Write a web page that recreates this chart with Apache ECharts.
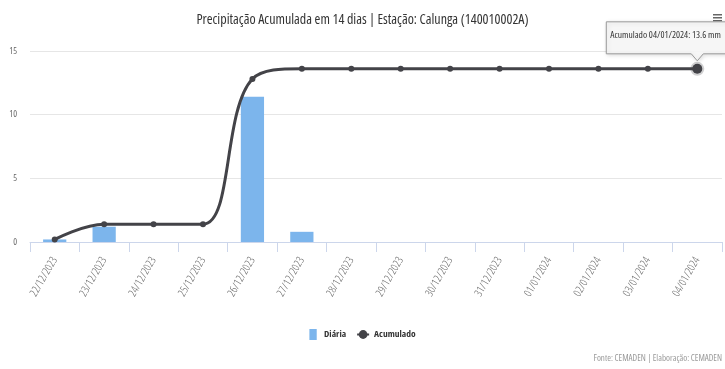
<!DOCTYPE html>
<html>
<head>
<meta charset="utf-8">
<script src="https://cdn.jsdelivr.net/npm/echarts@6/dist/echarts.min.js"></script>
<style>
html,body{margin:0;padding:0;background:#fff;}
#chart{width:725px;height:369px;}
</style>
</head>
<body>
<div id="chart"></div>
<script>
var categories = ['22/12/2023','23/12/2023','24/12/2023','25/12/2023','26/12/2023','27/12/2023','28/12/2023','29/12/2023','30/12/2023','31/12/2023','01/01/2024','02/01/2024','03/01/2024','04/01/2024'];
var diaria = [0.2, 1.2, 0, 0, 11.4, 0.8, 0, 0, 0, 0, 0, 0, 0, 0];
var acumulado = [0.2, 1.4, 1.4, 1.4, 12.8, 13.6, 13.6, 13.6, 13.6, 13.6, 13.6, 13.6, 13.6, 13.6];
var yTicks = [0, 5, 10, 15];

// render every canvas text with the condensed width of the (variable) Open Sans font
(function () {
  var proto = CanvasRenderingContext2D.prototype;
  var desc = Object.getOwnPropertyDescriptor(proto, 'font');
  if (desc && desc.set && ('fontStretch' in proto)) {
    Object.defineProperty(proto, 'font', {
      configurable: true,
      get: function () { return desc.get.call(this); },
      set: function (v) { desc.set.call(this, v); this.fontStretch = 'condensed'; }
    });
  }
})();

var FONT = "'Open Sans', sans-serif";
var chart = echarts.init(document.getElementById('chart'), null, {renderer: 'canvas'});

var lastIdx = acumulado.length - 1;
var accData = acumulado.map(function (v, i) {
  if (i === lastIdx) {
    return {value: v, symbolSize: 10, itemStyle: {borderColor: 'rgba(67,67,72,0.25)', borderWidth: 4}};
  }
  return v;
});

var option = {
  animation: false,
  title: {
    text: 'Precipitação Acumulada em 14 dias | Estação: Calunga (140010002A)',
    left: 'center', top: 8,
    textStyle: {fontFamily: FONT, fontSize: 14, fontWeight: 'normal', color: '#333333'}
  },
  legend: {
    bottom: 24, left: 'center',
    itemWidth: 12, itemHeight: 11, itemGap: 10,
    textStyle: {fontFamily: FONT, fontSize: 9.5, fontWeight: 'bold', color: '#333333'},
    data: [{name: 'Diária', icon: 'path://M0,0 L8,0 L8,12 L0,12 Z'}, {name: 'Acumulado'}]
  },
  grid: {left: 30, right: 3, top: 51, bottom: 127, containLabel: false, outerBoundsMode: 'none'},
  xAxis: {
    type: 'category',
    data: categories,
    boundaryGap: true,
    axisLine: {lineStyle: {color: '#ccd6eb', width: 1}},
    axisTick: {show: true, length: 10, lineStyle: {color: '#ccd6eb'}},
    axisLabel: {rotate: 60, margin: 16, fontFamily: FONT, fontSize: 11, fontWeight: 300, color: '#666666', interval: 0}
  },
  yAxis: {
    type: 'value', min: 0, max: 15, interval: 5,
    name: '[mm]', nameLocation: 'middle', nameGap: 21, nameRotate: 90,
    nameTextStyle: {fontFamily: FONT, fontSize: 9, fontWeight: 'bold', color: '#666666'},
    axisLabel: {margin: 13, fontFamily: FONT, fontSize: 9, color: '#666666',
      formatter: function (v) { return yTicks.indexOf(v) >= 0 ? String(v) : ''; }},
    axisLine: {show: false}, axisTick: {show: false},
    splitLine: {lineStyle: {color: '#e6e6e6', width: 1}}
  },
  series: [
    {
      name: 'Diária', type: 'bar', data: diaria, barWidth: '47%',
      itemStyle: {color: '#7cb5ec'}
    },
    {
      name: 'Acumulado', type: 'line', data: accData, smooth: 0.4,
      symbol: 'circle', symbolSize: 6, showSymbol: true,
      lineStyle: {color: '#434348', width: 3},
      itemStyle: {color: '#434348'}
    }
  ],
  graphic: [
    {
      type: 'text', right: 3, bottom: 6,
      style: {text: 'Fonte: CEMADEN | Elaboração: CEMADEN', font: '9px ' + FONT, fill: '#999999'}
    },
    {
      type: 'group', left: 713, top: 14,
      children: [
        {type: 'rect', shape: {x: 0, y: 0, width: 9, height: 1.5}, style: {fill: '#666666'}},
        {type: 'rect', shape: {x: 0, y: 3, width: 9, height: 1.5}, style: {fill: '#666666'}},
        {type: 'rect', shape: {x: 0, y: 6, width: 9, height: 1.5}, style: {fill: '#666666'}}
      ]
    }
  ]
};
chart.setOption(option);

// tooltip annotation anchored on the last Acumulado point
var p = chart.convertToPixel({seriesIndex: 1}, [lastIdx, acumulado[lastIdx]]);
var bx = p[0] - 91, by = p[1] - 47, bw = 130, bh = 32;
var tipText = 'Acumulado ' + categories[lastIdx] + ': ' + acumulado[lastIdx] + ' mm';
chart.setOption({
  graphic: [
    option.graphic[0], option.graphic[1],
    {
      type: 'polygon', z: 100,
      shape: {points: [[bx, by], [bx + bw, by], [bx + bw, by + bh], [p[0] + 6, by + bh], [p[0], p[1] - 8], [p[0] - 6, by + bh], [bx, by + bh]]},
      style: {fill: 'rgba(247,247,247,0.92)', stroke: '#999999', lineWidth: 1, shadowBlur: 4, shadowColor: 'rgba(0,0,0,0.15)', shadowOffsetX: 1, shadowOffsetY: 1}
    },
    {
      type: 'text', z: 101, x: bx + 4, y: by + 8,
      style: {text: tipText, font: '9.5px ' + FONT, fill: '#333333'}
    }
  ]
});
</script>
</body>
</html>
